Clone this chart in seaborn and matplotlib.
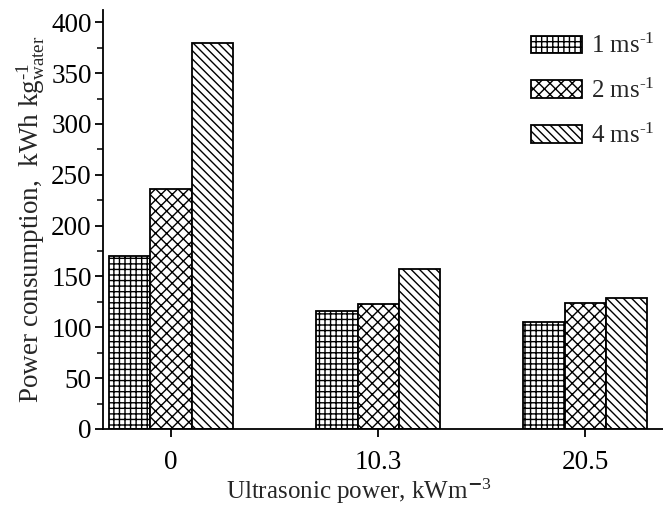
import numpy as np
import pandas as pd
import matplotlib
matplotlib.use('Agg')
import matplotlib.pyplot as plt
import seaborn as sns
from matplotlib.patches import Patch
from matplotlib.ticker import MultipleLocator

sns.set_style('ticks')
plt.rcParams['font.family'] = ['Liberation Serif', 'DejaVu Serif']
plt.rcParams['mathtext.fontset'] = 'custom'
plt.rcParams['mathtext.rm'] = 'Liberation Serif'
plt.rcParams['mathtext.it'] = 'Liberation Serif'
plt.rcParams['hatch.linewidth'] = 1.0

# ultrasonic power levels (x categories)
powers = ['0', '10.3', '20.5']
# air velocity series
speeds = ['1 ms$^{\\text{-}1}$', '2 ms$^{\\text{-}1}$', '4 ms$^{\\text{-}1}$']
# power consumption, kWh/kg water
cons_1 = [170, 116, 105]
cons_2 = [236, 123, 124]
cons_4 = [380, 157, 129]

hatches = ['+++', 'xxx', '\\\\\\\\']

df = pd.DataFrame({
    'power': powers * 3,
    'speed': [speeds[0]] * 3 + [speeds[1]] * 3 + [speeds[2]] * 3,
    'value': cons_1 + cons_2 + cons_4,
})

fig = plt.figure(figsize=(6.63, 5.07), dpi=100)
ax = fig.add_axes([0.155, 0.154, 0.845, 0.826])

sns.barplot(data=df, x='power', y='value', hue='speed', order=powers,
            hue_order=speeds, width=0.6, ax=ax, legend=False)

for cont, h in zip(ax.containers, hatches):
    for bar in cont:
        bar.set_facecolor('white')
        bar.set_edgecolor('black')
        bar.set_linewidth(1.3)
        bar.set_hatch(h)

ax.set_xlim(-0.33, 2.375)
ax.set_ylim(0, 412)
ax.yaxis.set_major_locator(MultipleLocator(50))
ax.yaxis.set_minor_locator(MultipleLocator(25))
sns.despine(ax=ax)
for s in ['left', 'bottom']:
    ax.spines[s].set_linewidth(1.3)
    ax.spines[s].set_color('black')
ax.tick_params(axis='both', which='major', length=6, width=1.3, labelsize=19.5,
               colors='black', pad=2)
ax.tick_params(axis='y', which='minor', length=4, width=1.3)
ax.tick_params(axis='x', pad=9)

ax.set_xlabel('Ultrasonic power, kWm$^{\\mathbf{-}3}$', fontsize=18)
ax.xaxis.set_label_coords(0.457, -0.113)
ax.set_ylabel('Power consumption,  kWh kg$_{water}^{\\text{-}1}$', fontsize=19.5, labelpad=3)

handles = [Patch(facecolor='white', edgecolor='black', hatch=h, linewidth=1.3)
           for h in hatches]
ax.legend(handles, speeds, loc='upper right', bbox_to_anchor=(1.025, 0.997),
          frameon=False, fontsize=18, handlelength=2.05, handleheight=0.7,
          labelspacing=0.82, handletextpad=0.35)

fig.savefig('out.png', dpi=100)
